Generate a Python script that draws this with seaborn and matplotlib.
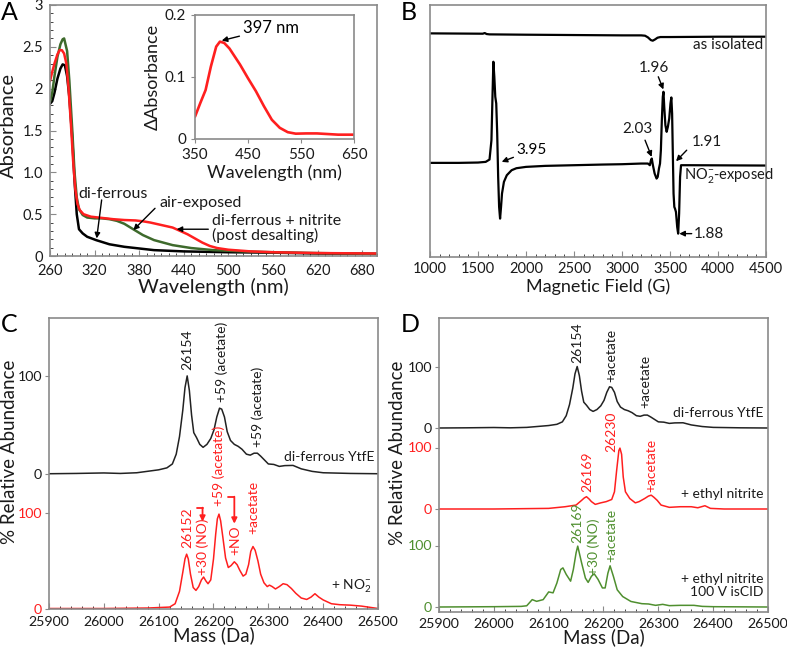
import numpy as np
import pandas as pd
import matplotlib
matplotlib.use("Agg")
import matplotlib.pyplot as plt
import seaborn as sns
from matplotlib.ticker import MultipleLocator, FixedLocator

# ---------------- data ----------------
# Panel A: UV-vis spectra
wl_black = [260, 263, 266, 270, 274, 277, 280, 283, 286, 290, 293, 296, 299, 304, 310, 322, 340, 360, 380, 400, 440, 500, 560, 620, 700]
abs_black = [1.82, 1.85, 1.95, 2.12, 2.24, 2.29, 2.28, 2.15, 1.90, 1.40, 0.90, 0.50, 0.32, 0.27, 0.23, 0.19, 0.14, 0.11, 0.09, 0.07, 0.055, 0.045, 0.04, 0.03, 0.025]
wl_green = [260, 263, 266, 270, 274, 277, 279, 283, 286, 290, 293, 296, 299, 304, 310, 320, 330, 340, 350, 360, 372, 385, 400, 425, 450, 480, 520, 560, 620, 700]
abs_green = [1.84, 1.95, 2.15, 2.38, 2.53, 2.59, 2.60, 2.45, 2.10, 1.50, 1.00, 0.70, 0.56, 0.49, 0.46, 0.45, 0.45, 0.44, 0.42, 0.385, 0.32, 0.25, 0.19, 0.13, 0.095, 0.07, 0.055, 0.045, 0.035, 0.025]
wl_red = [260, 263, 266, 270, 273, 276, 279, 282, 285, 288, 291, 294, 297, 300, 305, 315, 330, 345, 360, 375, 385, 395, 405, 415, 425, 435, 445, 455, 465, 475, 485, 500, 530, 560, 620, 700]
abs_red = [2.09, 2.20, 2.30, 2.41, 2.46, 2.46, 2.42, 2.30, 2.00, 1.60, 1.15, 0.80, 0.62, 0.55, 0.50, 0.47, 0.455, 0.44, 0.43, 0.425, 0.415, 0.40, 0.38, 0.36, 0.34, 0.30, 0.26, 0.21, 0.16, 0.12, 0.095, 0.075, 0.055, 0.045, 0.035, 0.03]
# inset: difference spectrum
wl_diff = [350, 360, 370, 380, 390, 397, 405, 415, 425, 435, 450, 465, 480, 495, 510, 525, 540, 560, 580, 600, 620, 650]
d_abs = [0.036, 0.058, 0.079, 0.117, 0.149, 0.157, 0.155, 0.146, 0.133, 0.120, 0.098, 0.077, 0.053, 0.031, 0.018, 0.011, 0.0086, 0.009, 0.009, 0.008, 0.007, 0.007]

# Panel B: EPR (arbitrary intensity relative to each baseline)
field_iso = [1000, 1550, 1570, 1590, 1620, 2000, 2500, 3000, 3200, 3240, 3270, 3300, 3320, 3345, 3370, 3400, 3500, 4000, 4500]
epr_iso = [10, 9, 11, 8, 7, 6, 5, 4, 4, 3, -2, -10, -12, -8, -3, -1, -1, 0, 0]
field_no2 = [1000, 1300, 1500, 1580, 1620, 1640, 1650, 1660, 1670, 1680, 1690, 1700, 1710, 1720, 1730, 1740, 1750, 1770, 1800, 1850, 1900, 2000, 2200, 2500, 2800, 3000, 3200, 3270, 3290, 3300, 3310, 3322, 3340, 3360, 3372, 3385, 3396, 3405, 3415, 3425, 3432, 3440, 3452, 3465, 3478, 3492, 3505, 3514, 3522, 3530, 3537, 3545, 3552, 3562, 3575, 3585, 3595, 3605, 3615, 3700, 4500]
epr_no2 = [2, 2, 3, 5, 12, 70, 190, 305, 260, 200, 180, 90, -40, -130, -165, -130, -90, -55, -35, -20, -14, -10, -7, -5, -3, -2, 0, 0, -5, 8, 15, -5, -30, -45, -40, -15, 0, 40, 130, 200, 215, 170, 115, 95, 110, 135, 180, 198, 150, 20, -90, -130, -135, -145, -190, -210, -150, -40, -5, -5, -6]

# Panels C/D: deconvoluted mass spectra (% relative abundance)
mass_ferrous = [25900, 25950, 26000, 26030, 26060, 26080, 26100, 26115, 26125, 26132, 26138, 26144, 26148, 26152, 26156, 26160, 26164, 26169, 26175, 26181, 26188, 26195, 26201, 26206, 26211, 26215, 26220, 26225, 26231, 26238, 26245, 26252, 26260, 26267, 26274, 26280, 26286, 26293, 26300, 26310, 26320, 26330, 26345, 26360, 26380, 26400, 26450, 26500]
ab_ferrous = [0, 0.3, 0.8, 0.3, 1, 2.5, 4, 6, 10, 20, 38, 65, 88, 100, 85, 60, 42, 37, 30, 27, 30, 36, 45, 58, 67, 66, 58, 43, 34, 30, 28, 25, 20, 19, 21, 21, 18, 14, 10, 9.5, 7.5, 8.3, 8.5, 5, 2.4, 1, 0.3, 0]
mass_nitrite = [25900, 26000, 26080, 26100, 26120, 26130, 26138, 26144, 26148, 26151, 26154, 26158, 26163, 26168, 26173, 26178, 26182, 26186, 26190, 26195, 26200, 26204, 26207, 26210, 26213, 26217, 26222, 26227, 26232, 26238, 26243, 26248, 26254, 26259, 26264, 26268, 26272, 26276, 26281, 26286, 26292, 26298, 26302, 26307, 26313, 26320, 26327, 26334, 26342, 26350, 26360, 26370, 26378, 26385, 26392, 26400, 26415, 26430, 26450, 26470, 26500]
ab_nitrite = [0, 0, 0.5, 1, 1.5, 5, 18, 38, 52, 57, 52, 36, 22, 19, 23, 30, 33, 29, 26, 30, 52, 78, 94, 99, 92, 75, 53, 43, 45, 49, 46, 40, 34, 36, 46, 60, 65, 61, 50, 36, 27, 23, 24.5, 23, 20.5, 23, 26, 25, 21, 16, 11, 9.5, 12, 15.5, 12, 9, 5, 4, 3.5, 2.5, 0]
mass_ethyl = [25900, 26000, 26100, 26130, 26150, 26160, 26165, 26169, 26174, 26178, 26185, 26195, 26205, 26215, 26220, 26224, 26228, 26230, 26233, 26236, 26240, 26248, 26258, 26265, 26275, 26282, 26287, 26292, 26298, 26305, 26320, 26340, 26360, 26372, 26385, 26395, 26420, 26500]
ab_ethyl = [0, 0, 1, 3.7, 6.4, 14, 18, 20, 16, 12, 7.5, 10, 12, 15.5, 28, 63, 95, 99, 89, 52, 28, 17, 10, 12, 17, 21, 22.5, 19, 14, 6.4, 2.7, 3.7, 3.7, 2, 5.3, 1, 0, 0]
mass_cid = [25900, 26000, 26050, 26060, 26070, 26078, 26090, 26100, 26108, 26115, 26122, 26126, 26132, 26140, 26145, 26150, 26153, 26160, 26167, 26172, 26178, 26183, 26190, 26198, 26203, 26208, 26212, 26218, 26225, 26235, 26250, 26270, 26282, 26295, 26308, 26320, 26340, 26365, 26380, 26400, 26500]
ab_cid = [0, 0.5, 1, 2, 12, 9.2, 12, 24.5, 23, 39, 61, 63.6, 53, 42, 61, 88, 99, 72, 47, 40, 50, 54, 45, 31, 31, 55, 67, 50, 28, 17, 9, 5.4, 4.9, 2.7, 4.3, 2.2, 2.7, 2.7, 1, 0.5, 0]

xt_A = [260, 320, 380, 440, 500, 560, 620, 680]
yt_A = [0, 0.5, 1.0, 1.5, 2, 2.5, 3]
ytl_A = ['0', '0.5', '1.0', '1.5', '2', '2.5', '3']
xt_ms = [25900, 26000, 26100, 26200, 26300, 26400, 26500]

# ---------------- style ----------------
sns.set_style("ticks")
plt.rcParams['font.family'] = ['Lato', 'DejaVu Sans']
plt.rcParams['mathtext.fontset'] = 'custom'
plt.rcParams['mathtext.rm'] = 'Lato'
plt.rcParams['mathtext.default'] = 'regular'
SPINE = '#8a8a8a'
TXT = '#1a1a1a'
RED = '#ff1f1f'
GREEN_A = '#3e6a2c'
GREEN_D = '#4f8f2f'
TF = 10.5

W, H = 787, 648
fig = plt.figure(figsize=(W / 100, H / 100), dpi=100)


def axes_px(l, t, r, b):
    return fig.add_axes([l / W, 1 - b / H, (r - l) / W, (b - t) / H])


def style(ax, tf=TF):
    for s in ax.spines.values():
        s.set_color(SPINE)
        s.set_linewidth(1.2)
    ax.tick_params(colors=SPINE, labelcolor=TXT, labelsize=tf)
    ax.set_facecolor('white')


def line(ax, x, y, color, lw):
    sns.lineplot(x=np.asarray(x, float), y=np.asarray(y, float), ax=ax, color=color,
                 lw=lw, estimator=None, sort=False, legend=False)


def arrow(ax, xy, xytext, text='', color='black', fs=10.5, ha='left', va='center', lw=1.0):
    ax.annotate(text, xy=xy, xytext=xytext, color=color, fontsize=fs, ha=ha, va=va,
                arrowprops=dict(arrowstyle='-|>', color=color, lw=lw,
                                mutation_scale=8, shrinkA=0, shrinkB=0))

# ---------------- Panel A ----------------
AFA = 11.5
axA = axes_px(50, 5, 377, 256)
style(axA)
line(axA, wl_black, abs_black, 'black', 1.8)
line(axA, wl_green, abs_green, GREEN_A, 1.8)
line(axA, wl_red, abs_red, RED, 1.8)
axA.set_xlim(260, 700)
axA.set_ylim(0, 3)
axA.xaxis.set_major_locator(FixedLocator(xt_A))
axA.xaxis.set_minor_locator(MultipleLocator(10))
axA.yaxis.set_major_locator(FixedLocator(yt_A))
axA.set_yticklabels(ytl_A)
axA.yaxis.set_minor_locator(MultipleLocator(0.1))
axA.tick_params(which='both', direction='in')
axA.tick_params(which='major', length=4)
axA.tick_params(which='minor', length=2)
axA.tick_params(axis='x', pad=6)
axA.tick_params(axis='y', pad=5)
axA.set_xlabel('Wavelength (nm)', fontsize=14.5, color=TXT, labelpad=0)
axA.set_ylabel('Absorbance', fontsize=14.5, color=TXT)
axA.yaxis.set_label_coords(-0.1, 0.52)
arrow(axA, (322.8, 0.21), (329.5, 0.67), '', 'black')
axA.text(344.8, 0.74, 'di-ferrous', fontsize=AFA, ha='center', va='center', color=TXT)
arrow(axA, (372.1, 0.31), (401.3, 0.57), '', 'black')
axA.text(407, 0.63, 'air-exposed', fontsize=AFA, ha='left', va='center', color=TXT)
arrow(axA, (430.4, 0.32), (473, 0.32), '', 'black')
axA.text(477.5, 0.33, 'di-ferrous + nitrite\n(post desalting)', fontsize=AFA, ha='left',
         va='center', color=TXT, linespacing=1.0)

# inset
axI = axes_px(195, 15, 354, 139)
style(axI, 11)
line(axI, wl_diff, d_abs, RED, 1.9)
axI.set_xlim(350, 650)
axI.set_ylim(0, 0.2)
axI.set_xticks([350, 450, 550, 650])
axI.set_yticks([0, 0.1, 0.2])
axI.set_yticklabels(['0', '0.1', '0.2'])
axI.tick_params(direction='out', length=3)
axI.set_xlabel('Wavelength (nm)', fontsize=13, color=TXT, labelpad=2)
axI.set_ylabel('ΔAbsorbance', fontsize=13, color=TXT, labelpad=3)
arrow(axI, (400.4, 0.1587), (440, 0.1785), '397 nm', 'black', fs=12)

# ---------------- Panel B ----------------
AFB = 11
axB = axes_px(430, 5, 766, 257)
style(axB)
line(axB, field_iso, np.asarray(epr_iso) + 660, 'black', 1.6)
line(axB, field_no2, np.asarray(epr_no2) + 280, 'black', 1.6)
axB.set_xlim(1000, 4500)
axB.set_ylim(0, 755)
axB.xaxis.set_major_locator(MultipleLocator(500))
axB.xaxis.set_minor_locator(MultipleLocator(100))
axB.set_yticks([])
axB.tick_params(which='both', direction='in')
axB.tick_params(which='major', length=4)
axB.tick_params(which='minor', length=2)
axB.set_xlabel('Magnetic Field (G)', fontsize=13, color=TXT, labelpad=2)
axB.text(4475, 635, 'as isolated', fontsize=AFB, ha='right', va='center', color=TXT)
axB.text(3645, 245, 'NO$_2^{-}$-exposed', fontsize=10.5, ha='left', va='center', color=TXT)
arrow(axB, (1747, 285), (1903, 320), '3.95', fs=AFB)
arrow(axB, (3309, 300), (3240, 350), '')
axB.text(3160, 383, '2.03', fontsize=AFB, ha='center', va='center', color=TXT)
arrow(axB, (3431, 502), (3378, 540), '')
axB.text(3333, 567, '1.96', fontsize=AFB, ha='center', va='center', color=TXT)
arrow(axB, (3563, 287), (3674, 320), '')
axB.text(3726, 345, '1.91', fontsize=AFB, ha='left', va='center', color=TXT)
arrow(axB, (3597, 70), (3726, 70), '')
axB.text(3743, 70, '1.88', fontsize=AFB, ha='left', va='center', color=TXT)

# ---------------- Panel C ----------------
AFC = 10
axC = axes_px(49, 318, 378, 609)
style(axC, 10.2)
C_RED_SCALE, C_BLK_OFF, C_BLK_SCALE = 0.955, 135, 0.98
line(axC, mass_ferrous, C_BLK_OFF + C_BLK_SCALE * np.asarray(ab_ferrous), '#222222', 1.1)
line(axC, mass_nitrite, C_RED_SCALE * np.asarray(ab_nitrite), RED, 1.1)
axC.set_xlim(25900, 26500)
axC.set_ylim(-0.5, 291)
axC.xaxis.set_major_locator(FixedLocator(xt_ms))
axC.xaxis.set_minor_locator(MultipleLocator(20))
axC.tick_params(axis='x', which='both', direction='in', pad=5)
axC.tick_params(axis='x', which='major', length=4)
axC.tick_params(axis='x', which='minor', length=2)
axC.set_yticks([0, C_RED_SCALE * 100, C_BLK_OFF, C_BLK_OFF + C_BLK_SCALE * 100])
axC.set_yticklabels(['0', '100', '0', '100'])
axC.tick_params(axis='y', direction='out', length=3, pad=2)
for lab, tk, c in zip(axC.get_yticklabels(), axC.yaxis.get_major_ticks(), [RED, RED, TXT, TXT]):
    lab.set_color(c)
    tk.tick1line.set_color(c if c == RED else SPINE)
axC.set_xlabel('Mass (Da)', fontsize=13.5, color=TXT, labelpad=-1)
axC.set_ylabel('% Relative Abundance', fontsize=13.5, color=TXT)
axC.yaxis.set_label_coords(-0.095, 0.54)
for x, y, s in [(26153, 239, '26154'), (26215, 207, '+59 (acetate)'), (26281, 162, '+59 (acetate)')]:
    axC.text(x, y, s, rotation=90, ha='center', va='bottom', fontsize=AFC, color=TXT)
for x, y, s in [(26153, 61, '26152'), (26180, 34, '+30 (NO)'), (26210, 103, '+59 (acetate)'),
                (26239, 54, '+NO'), (26272, 75, '+acetate')]:
    axC.text(x, y, s, rotation=90, ha='center', va='bottom', fontsize=AFC, color=RED)
axC.text(26494, 152, 'di-ferrous YtfE', ha='right', va='center', fontsize=AFC, color=TXT)
axC.text(26489, 22, '+ NO$_2^{-}$', ha='right', va='center', fontsize=AFC, color=TXT)
axC.plot([26169, 26180], [101, 101], color=RED, lw=1.3)
arrow(axC, (26180, 87), (26180, 101), '', RED, lw=1.3)
axC.plot([26227, 26238], [112, 112], color=RED, lw=1.3)
arrow(axC, (26238, 85), (26238, 112), '', RED, lw=1.3)

# ---------------- Panel D ----------------
axD = axes_px(439, 318, 768, 612)
style(axD, 10.2)
D_SCALE, D_RED_OFF, D_BLK_OFF = 0.615, 98, 179
line(axD, mass_ferrous, D_BLK_OFF + D_SCALE * np.asarray(ab_ferrous), '#222222', 1.1)
line(axD, mass_ethyl, D_RED_OFF + D_SCALE * np.asarray(ab_ethyl), RED, 1.1)
line(axD, mass_cid, D_SCALE * np.asarray(ab_cid), GREEN_D, 1.1)
axD.set_xlim(25900, 26500)
axD.set_ylim(-5, 289)
axD.xaxis.set_major_locator(FixedLocator(xt_ms))
axD.xaxis.set_minor_locator(MultipleLocator(20))
axD.tick_params(axis='x', which='both', direction='in', pad=4)
axD.tick_params(axis='x', which='major', length=4)
axD.tick_params(axis='x', which='minor', length=2)
axD.set_yticks([0, D_SCALE * 100, D_RED_OFF, D_RED_OFF + D_SCALE * 100,
                D_BLK_OFF, D_BLK_OFF + D_SCALE * 100])
axD.set_yticklabels(['0', '100', '0', '100', '0', '100'])
axD.tick_params(axis='y', direction='out', length=3, pad=2)
for lab, tk, c in zip(axD.get_yticklabels(), axD.yaxis.get_major_ticks(),
                      [GREEN_D, GREEN_D, RED, RED, TXT, TXT]):
    lab.set_color(c)
    tk.tick1line.set_color(c if c != TXT else SPINE)
axD.set_xlabel('Mass (Da)', fontsize=13.5, color=TXT, labelpad=-1)
axD.set_ylabel('% Relative Abundance', fontsize=13.5, color=TXT)
axD.yaxis.set_label_coords(-0.1, 0.54)
for x, y, s in [(26153, 244, '26154'), (26214, 225, '+acetate'), (26276, 199, '+acetate')]:
    axD.text(x, y, s, rotation=90, ha='center', va='bottom', fontsize=AFC, color=TXT)
for x, y, s in [(26170, 115, '26169'), (26215, 155, '26230'), (26288, 115, '+acetate')]:
    axD.text(x, y, s, rotation=90, ha='center', va='bottom', fontsize=AFC, color=RED)
for x, y, s in [(26153, 64, '26169'), (26183, 32, '+30 (NO)'), (26214, 45, '+acetate')]:
    axD.text(x, y, s, rotation=90, ha='center', va='bottom', fontsize=AFC, color=GREEN_D)
axD.text(26491, 194, 'di-ferrous YtfE', ha='right', va='center', fontsize=AFC, color=TXT)
axD.text(26491, 113, '+ ethyl nitrite', ha='right', va='center', fontsize=AFC, color=TXT)
axD.text(26491, 21.5, '+ ethyl nitrite\n100 V isCID', ha='right', va='center', fontsize=AFC,
         color=TXT, multialignment='right', linespacing=1.1)

# panel letters
for x, y, s in [(1, 1, 'A'), (401, 1, 'B'), (1, 313, 'C'), (401, 313, 'D')]:
    fig.text(x / W, 1 - y / H, s, fontsize=18, ha='left', va='top', color='black')

fig.savefig('out.png', dpi=100)
